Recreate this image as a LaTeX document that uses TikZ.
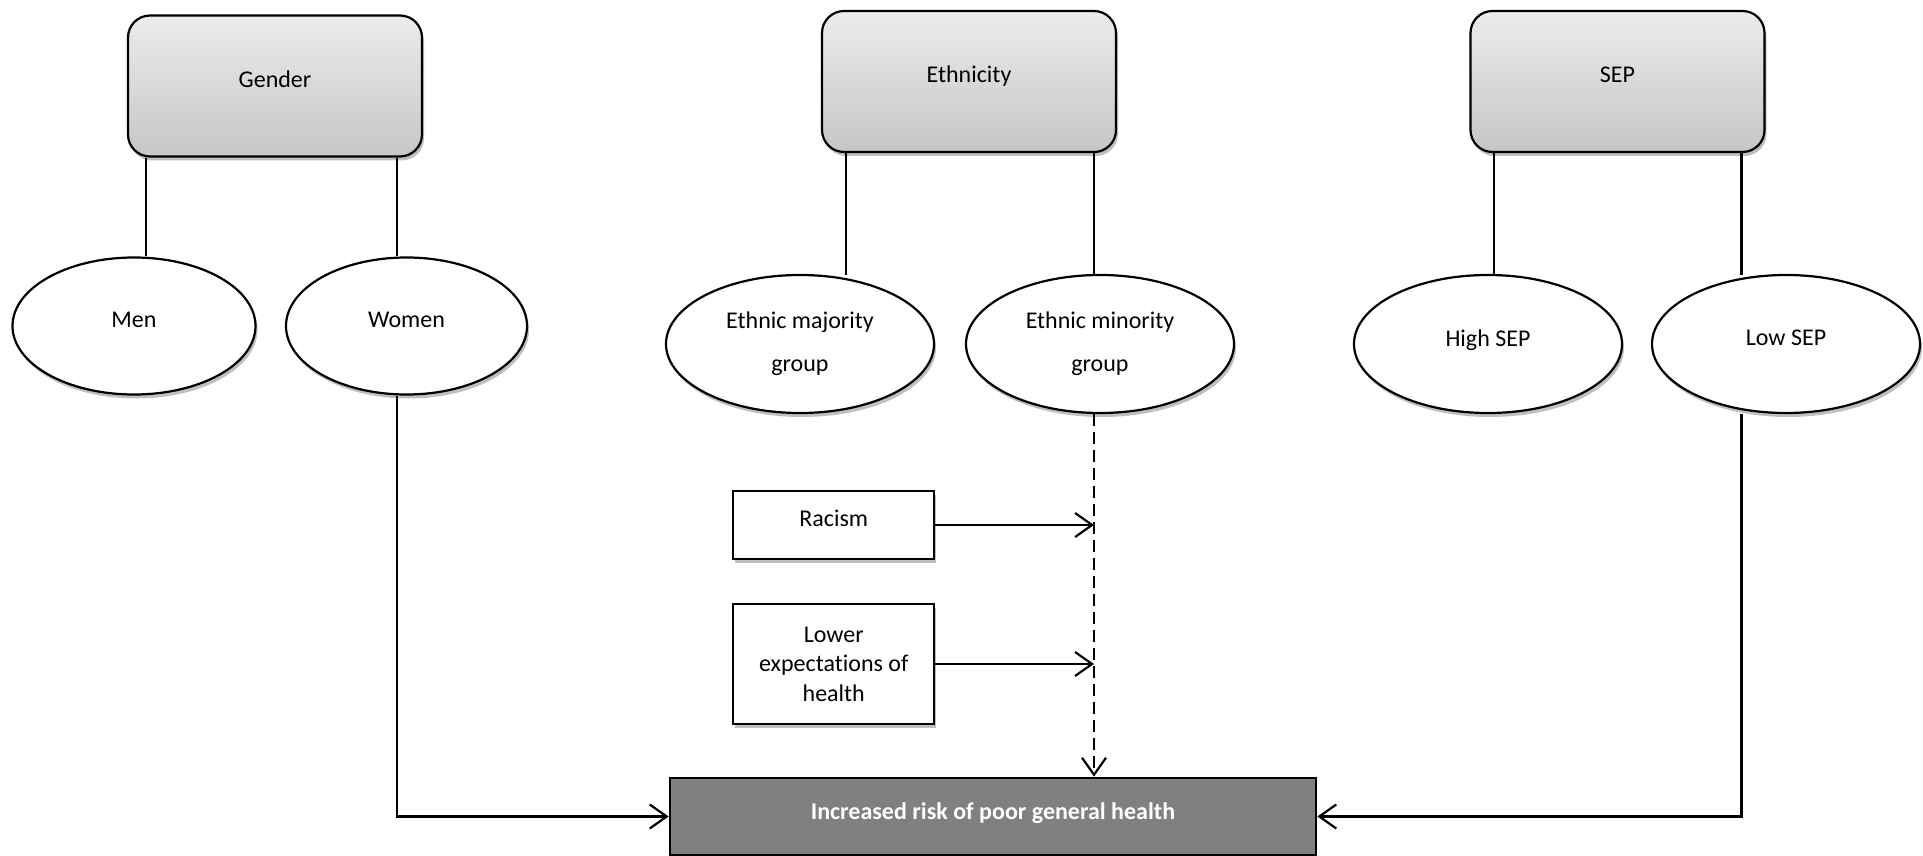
\documentclass[tikz,border=0pt]{standalone}
\usepackage{fontspec}
\setmainfont{Carlito}[Ligatures=NoCommon]
\usetikzlibrary{arrows.meta,shadows,shapes.geometric}
\begin{document}
\begin{tikzpicture}[x=1pt,y=-1pt,
  every node/.style={font=\fontsize{24}{29.5}\selectfont},
  conn/.style={line width=2.2pt},
  arr/.style={line width=2.2pt,-{Straight Barb[length=17pt,width=24pt,line width=2.2pt]}},
  shade/.style={drop shadow={shadow xshift=2pt,shadow yshift=-4pt,opacity=0.25,fill=black}},
  catbox/.style={draw,line width=2.2pt,rounded corners=22pt,minimum width=294pt,minimum height=141pt,
    top color=gray!15,bottom color=gray!45,shade,text depth=14pt},
  oval/.style={draw,ellipse,line width=2.2pt,fill=white,minimum width=268pt,minimum height=138pt,inner sep=0pt,shade,align=center},
  medbox/.style={draw,line width=2.2pt,fill=white,minimum width=201pt,shade,align=center,inner sep=0pt},
]
\useasboundingbox (0,0) rectangle (1923,856);
% category boxes
\node[catbox] (gender) at (275,86) {Gender};
\node[catbox] (eth) at (969,81.5) {Ethnicity};
\node[catbox] (sep) at (1617.5,81.5) {SEP};
% ellipses
\node[oval,minimum width=243pt,minimum height=137pt,text depth=12pt] (men) at (134,326) {Men};
\node[oval,minimum width=241pt,minimum height=137pt,text depth=12pt] (women) at (406.5,326) {Women};
\node[oval,font=\fontsize{24}{43}\selectfont] (maj) at (800,344) {Ethnic majority\\group};
\node[oval,font=\fontsize{24}{43}\selectfont] (min) at (1100,344) {Ethnic minority\\group};
\node[oval,text depth=12pt] (high) at (1488,344) {High SEP};
\node[oval,text depth=12pt] (low) at (1786,344) {Low SEP};
% mediators
\node[medbox,minimum height=68.5pt,text depth=14pt] (racism) at (833.75,525) {Racism};
\node[medbox,minimum height=120pt,yshift=-2pt] (lower) at (833.75,662) {Lower\\expectations of\\health};
% outcome
\node[draw,line width=2.2pt,fill=black!50,text=white,font=\fontsize{24}{29}\selectfont\bfseries,
  minimum width=646.5pt,minimum height=77.5pt,text depth=10pt] (out) at (993,816.5) {Increased risk of poor general health};
% connectors
\coordinate (g1) at (146,0); \coordinate (g2) at (397,0);
\draw[conn] (gender.south -| g1) -- (men.north -| g1);
\draw[conn] (gender.south -| g2) -- (women.north -| g2);
\coordinate (e1) at (846,0); \coordinate (e2) at (1094,0);
\draw[conn] (eth.south -| e1) -- (e1 |- 0,275);
\draw[conn] (eth.south -| e2) -- (e2 |- 0,275);
\coordinate (s1) at (1494,0); \coordinate (s2) at (1741.5,0);
\draw[conn] (sep.south -| s1) -- (s1 |- 0,275);
\draw[conn] (sep.south -| s2) -- (s2 |- 0,275);
% paths to outcome
\draw[arr] (women.south -| g2) |- (out.west);
\draw[arr] (low.south -| s2) |- (out.east);
\draw[arr,dash pattern=on 12pt off 6pt] (min.south -| e2) -- (out.north -| e2);
\draw[arr] (racism.east) -- (racism.east -| e2);
\draw[arr] (lower.east) -- (lower.east -| e2);
\end{tikzpicture}
\end{document}
